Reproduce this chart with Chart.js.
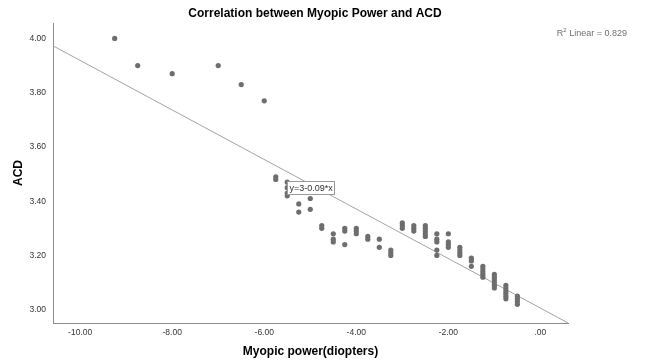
<!DOCTYPE html>
<html><head><meta charset="utf-8">
<script src="https://cdn.jsdelivr.net/npm/chart.js@4.4.1/dist/chart.umd.min.js"></script>
<style>html,body{margin:0;padding:0;background:#fff;overflow:hidden}</style>
</head><body>
<canvas id="c" width="645" height="362"></canvas>
<script>
const chartTitle = 'Correlation between Myopic Power and ACD';
const xAxisTitle = 'Myopic power(diopters)';
const yAxisTitle = 'ACD';
const xTickValues = [-10, -8, -6, -4, -2, 0];
const yTickValues = [3.0, 3.2, 3.4, 3.6, 3.8, 4.0];
const xRange = [-10.59, 0.6];
const yRange = [2.951, 4.057];

const myopicPower = [
  -9.25, -8.75, -8.00, -7.00, -6.50, -6.00,
  -5.75, -5.75,
  -5.50, -5.50, -5.50, -5.50,
  -5.25, -5.25,
  -5.00, -5.00,
  -4.75, -4.75,
  -4.50, -4.50, -4.50,
  -4.25, -4.25, -4.25,
  -4.00, -4.00, -4.00,
  -3.75, -3.75,
  -3.50, -3.50,
  -3.25, -3.25, -3.25,
  -3.00, -3.00, -3.00,
  -2.75, -2.75, -2.75,
  -2.50, -2.50, -2.50, -2.50, -2.50,
  -2.25, -2.25, -2.25, -2.25, -2.25,
  -2.00, -2.00, -2.00, -2.00,
  -1.75, -1.75, -1.75, -1.75,
  -1.50, -1.50, -1.50,
  -1.25, -1.25, -1.25, -1.25, -1.25,
  -1.00, -1.00, -1.00, -1.00, -1.00, -1.00,
  -0.75, -0.75, -0.75, -0.75, -0.75, -0.75,
  -0.50, -0.50, -0.50, -0.50
];
const acd = [
  4.00, 3.90, 3.87, 3.90, 3.83, 3.77,
  3.49, 3.48,
  3.47, 3.45, 3.43, 3.42,
  3.39, 3.36,
  3.41, 3.37,
  3.31, 3.30,
  3.28, 3.26, 3.25,
  3.30, 3.29, 3.24,
  3.30, 3.29, 3.28,
  3.27, 3.26,
  3.26, 3.23,
  3.22, 3.21, 3.20,
  3.32, 3.31, 3.30,
  3.31, 3.30, 3.29,
  3.31, 3.30, 3.29, 3.28, 3.27,
  3.28, 3.26, 3.25, 3.22, 3.20,
  3.28, 3.25, 3.24, 3.23,
  3.23, 3.22, 3.21, 3.20,
  3.19, 3.18, 3.16,
  3.16, 3.15, 3.14, 3.13, 3.12,
  3.13, 3.12, 3.11, 3.10, 3.09, 3.08,
  3.09, 3.08, 3.07, 3.06, 3.05, 3.04,
  3.05, 3.04, 3.03, 3.02
];

const fitIntercept = 3.006;
const fitSlope = -0.0913;
const fitLabel = 'y=3-0.09*x';
const fitLabelAnchor = { x: -5.51, y: 3.475 };
const r2Value = '0.829';

const FONT = "'Liberation Sans', Arial, sans-serif";

const points = myopicPower.map((x, i) => ({ x: x, y: acd[i] }));
const fitLine = xRange.map(x => ({ x: x, y: fitIntercept + fitSlope * x }));

const overlayPlugin = {
  id: 'overlay',
  afterDraw(chart) {
    const ctx = chart.ctx;
    ctx.save();
    // Title
    ctx.fillStyle = '#000';
    ctx.font = 'bold 12px ' + FONT;
    ctx.textAlign = 'center';
    ctx.textBaseline = 'middle';
    ctx.fillText(chartTitle, 315, 14);

    // R2 label (right aligned)
    const rightEdge = 627;
    ctx.fillStyle = '#707070';
    ctx.textBaseline = 'alphabetic';
    ctx.textAlign = 'left';
    ctx.font = '9px ' + FONT;
    const rest = ' Linear = ' + r2Value;
    const wR = ctx.measureText('R').width;
    const wRest = ctx.measureText(rest).width;
    ctx.font = '6px ' + FONT;
    const wSup = ctx.measureText('2').width;
    let x0 = rightEdge - wR - wSup - wRest;
    const yb = 36;
    ctx.font = '9px ' + FONT;
    ctx.fillText('R', x0, yb);
    ctx.font = '6px ' + FONT;
    ctx.fillText('2', x0 + wR, yb - 4);
    ctx.font = '9px ' + FONT;
    ctx.fillText(rest, x0 + wR + wSup, yb);

    // Fit equation box
    const bx = chart.scales.x.getPixelForValue(fitLabelAnchor.x);
    const by = chart.scales.y.getPixelForValue(fitLabelAnchor.y);
    ctx.font = '9px ' + FONT;
    const tw = ctx.measureText(fitLabel).width;
    const bw = Math.round(tw + 4), bh = 13;
    ctx.fillStyle = '#fff';
    ctx.fillRect(Math.round(bx) + 0.5, Math.round(by) + 0.5, bw, bh);
    ctx.strokeStyle = '#9a9a9a';
    ctx.lineWidth = 1;
    ctx.strokeRect(Math.round(bx) + 0.5, Math.round(by) + 0.5, bw, bh);
    ctx.fillStyle = '#333';
    ctx.textBaseline = 'middle';
    ctx.fillText(fitLabel, Math.round(bx) + 2.5, Math.round(by) + 0.5 + bh / 2 + 0.5);
    ctx.restore();
  }
};

new Chart(document.getElementById('c'), {
  type: 'scatter',
  data: {
    datasets: [
      {
        label: 'ACD',
        data: points,
        backgroundColor: '#6e6e6e',
        borderColor: '#6e6e6e',
        borderWidth: 0,
        pointRadius: 2.6,
        pointHoverRadius: 2.6,
        order: 1
      },
      {
        type: 'line',
        label: 'Fit',
        data: fitLine,
        borderColor: '#a3a3a3',
        borderWidth: 1,
        pointRadius: 0,
        fill: false,
        order: 2
      }
    ]
  },
  options: {
    responsive: false,
    animation: false,
    devicePixelRatio: 1,
    layout: { padding: { top: 23, right: 77, bottom: 0, left: 0 } },
    plugins: {
      legend: { display: false },
      tooltip: { enabled: false },
      title: { display: false }
    },
    scales: {
      x: {
        type: 'linear',
        min: xRange[0],
        max: xRange[1],
        afterBuildTicks: s => { s.ticks = xTickValues.map(v => ({ value: v })); },
        afterFit: s => { s.height = 39; },
        grid: { display: true, drawOnChartArea: false, drawTicks: false },
        border: { display: true, color: '#8c8c8c', width: 1 },
        ticks: {
          padding: 5,
          color: '#333',
          font: { family: FONT, size: 8.5 },
          maxRotation: 0,
          callback: v => (v === 0 ? '.00' : Number(v).toFixed(2))
        },
        title: {
          display: true,
          text: xAxisTitle,
          color: '#000',
          font: { family: FONT, size: 12, weight: 'bold' },
          padding: { top: 0, bottom: 3 }
        }
      },
      y: {
        type: 'linear',
        min: yRange[0],
        max: yRange[1],
        afterBuildTicks: s => { s.ticks = yTickValues.map(v => ({ value: v })); },
        afterFit: s => { s.width = 53; },
        grid: { display: true, drawOnChartArea: false, drawTicks: false },
        border: { display: true, color: '#8c8c8c', width: 1 },
        ticks: {
          padding: 7,
          color: '#333',
          font: { family: FONT, size: 8.5 },
          callback: v => Number(v).toFixed(2)
        },
        title: {
          display: true,
          text: yAxisTitle,
          color: '#000',
          font: { family: FONT, size: 12, weight: 'bold' },
          padding: { top: 11, bottom: 0 }
        }
      }
    }
  },
  plugins: [overlayPlugin]
});
</script>
</body></html>
